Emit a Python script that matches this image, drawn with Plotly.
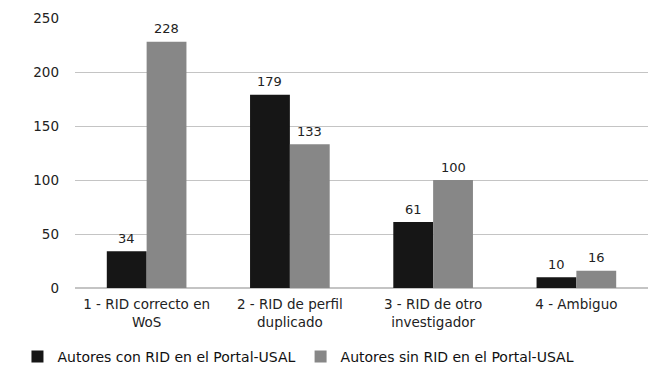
import plotly.graph_objects as go

categories = ["1 - RID correcto en<br>WoS", "2 - RID de perfil<br>duplicado",
              "3 - RID de otro<br>investigador", "4 - Ambiguo"]
series_names = ["Autores con RID en el Portal-USAL", "Autores sin RID en el Portal-USAL"]
con_rid = [34, 179, 61, 10]
sin_rid = [228, 133, 100, 16]
colors = ["#161616", "#878787"]

font = "DejaVu Sans"
W, H = 650, 369
ML, MR, MT, MB = 75, 2, 18, 81
bargap = 0.444

fig = go.Figure()
for name, vals, col in zip(series_names, [con_rid, sin_rid], colors):
    fig.add_trace(go.Bar(
        x=categories, y=vals, name=name, marker=dict(color=col, line=dict(width=0)),
    ))

# value labels above bars
cat_px = (W - ML - MR) / len(categories)
bar_px = cat_px * (1 - bargap) / 2
for k, vals in enumerate([con_rid, sin_rid]):
    shift = (k - 0.5) * bar_px
    for c, v in zip(categories, vals):
        fig.add_annotation(x=c, y=v, text=str(v), showarrow=False, xref="x", yref="y",
                           xshift=shift, yshift=13, yanchor="middle",
                           font=dict(family=font, size=13, color="#222"))

fig.update_layout(
    width=W, height=H,
    margin=dict(l=ML, r=MR, t=MT, b=MB, autoexpand=False),
    paper_bgcolor="white", plot_bgcolor="white",
    barmode="group", bargap=bargap, bargroupgap=0,
    font=dict(family=font, size=13, color="#222"),
    showlegend=True,
    legend=dict(orientation="h", x=0.39, xanchor="center", y=-0.255, yanchor="middle",
                font=dict(family=font, size=14, color="#111"),
                traceorder="normal"),
)
fig.update_yaxes(range=[0, 250], dtick=50, showgrid=True, gridcolor="#c4c4c4",
                 gridwidth=1, zeroline=True, zerolinecolor="#c4c4c4",
                 tickfont=dict(family=font, size=13.5, color="#222"), ticks="",
                 showline=False, automargin=False, ticklabelstandoff=15)
fig.update_xaxes(showline=False, ticks="outside", ticklen=4, tickcolor="rgba(0,0,0,0)",
                 tickfont=dict(family=font, size=13.5, color="#222"), automargin=False)

fig.write_html("out.html", config={"displayModeBar": False},
               post_script="document.body.style.margin='0';")
